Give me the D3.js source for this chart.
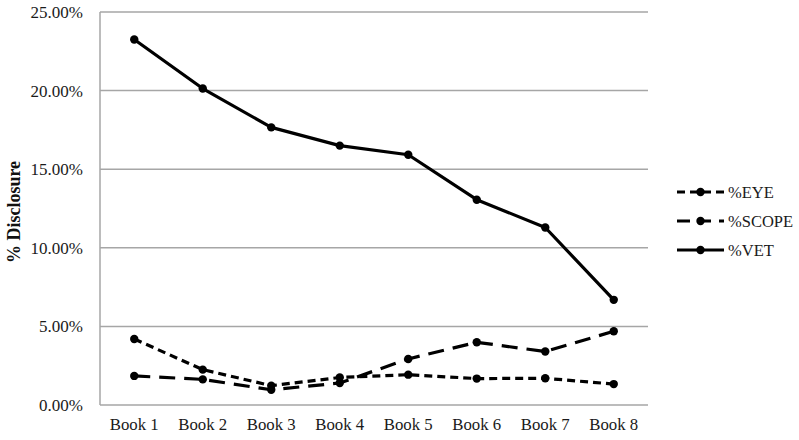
<!DOCTYPE html>
<html><head><meta charset="utf-8">
<script src="https://cdn.jsdelivr.net/npm/d3@7"></script>
<style>body{margin:0;background:#fff;} svg{display:block;}</style>
</head><body>
<svg id="c" width="799" height="440"></svg>
<script>
const categories = ["Book 1","Book 2","Book 3","Book 4","Book 5","Book 6","Book 7","Book 8"];
const eye   = [4.20, 2.25, 1.23, 1.75, 1.93, 1.68, 1.70, 1.33];
const scope = [1.85, 1.63, 0.97, 1.40, 2.93, 3.99, 3.40, 4.69];
const vet   = [23.25, 20.13, 17.66, 16.50, 15.92, 13.06, 11.29, 6.69];
const yTicks = [0, 5, 10, 15, 20, 25];
const seriesNames = ["%EYE", "%SCOPE", "%VET"];

const svg = d3.select("#c");
const font = "'Liberation Serif','Times New Roman',serif";
const L = 100, R = 648, T = 12, B = 405;
const x = d3.scaleBand().domain(categories).range([L, R]);
const y = d3.scaleLinear().domain([0, 25]).range([B, T]);
const grid = "#a6a6a6";

// gridlines
svg.append("g").selectAll("line").data(yTicks).join("line")
  .attr("x1", L).attr("x2", R).attr("y1", d => y(d)).attr("y2", d => y(d))
  .attr("stroke", grid).attr("stroke-width", 1.5);
// left axis line
svg.append("line").attr("x1", L).attr("x2", L).attr("y1", T).attr("y2", B)
  .attr("stroke", grid).attr("stroke-width", 1.5);

// y axis labels
const yAxis = d3.axisLeft(y).tickValues(yTicks).tickSize(0).tickPadding(17)
  .tickFormat(d => d.toFixed(2) + "%");
const gy = svg.append("g").attr("transform", `translate(${L},0)`).call(yAxis);
gy.select(".domain").remove();
gy.selectAll("text").attr("font-family", font).attr("font-size", 17).attr("fill", "#1a1a1a");

// x axis labels
const xAxis = d3.axisBottom(x).tickSize(0).tickPadding(13);
const gx = svg.append("g").attr("transform", `translate(0,${B})`).call(xAxis);
gx.select(".domain").remove();
gx.selectAll("text").attr("font-family", font).attr("font-size", 16.8).attr("fill", "#1a1a1a");

// y title
svg.append("text").attr("transform", `translate(20,212) rotate(-90)`)
  .attr("text-anchor", "middle").attr("font-family", font).attr("font-weight", "bold")
  .attr("font-size", 18).attr("fill", "#111").text("% Disclosure");

const cx = d => x(d) + x.bandwidth() / 2;
const series = [
  {name: seriesNames[0], vals: eye, dash: "8,5"},
  {name: seriesNames[1], vals: scope, dash: "16,9"},
  {name: seriesNames[2], vals: vet, dash: null}
];
const line = d3.line().x((d, i) => cx(categories[i])).y(d => y(d));
series.forEach(s => {
  svg.append("path").datum(s.vals).attr("d", line).attr("fill", "none")
    .attr("stroke", "#000").attr("stroke-width", 3.2)
    .attr("stroke-dasharray", s.dash).attr("stroke-linejoin", "round");
  svg.append("g").selectAll("circle").data(s.vals).join("circle")
    .attr("cx", (d, i) => cx(categories[i])).attr("cy", d => y(d)).attr("r", 4.2)
    .attr("fill", "#000");
});

// legend
const lg = svg.append("g");
series.forEach((s, i) => {
  const yy = 192 + i * 29;
  lg.append("line").attr("x1", 677).attr("x2", 724).attr("y1", yy).attr("y2", yy)
    .attr("stroke", "#000").attr("stroke-width", 3.2)
    .attr("stroke-dasharray", s.name === "%EYE" ? "8,5" : (s.name === "%SCOPE" ? "13,8" : null));
  lg.append("circle").attr("cx", 700.5).attr("cy", yy).attr("r", 4.2).attr("fill", "#000");
  lg.append("text").attr("x", 728).attr("y", yy).attr("dy", "0.35em")
    .attr("font-family", font).attr("font-size", 16.5).attr("fill", "#1a1a1a").text(s.name);
});
</script>
</body></html>
